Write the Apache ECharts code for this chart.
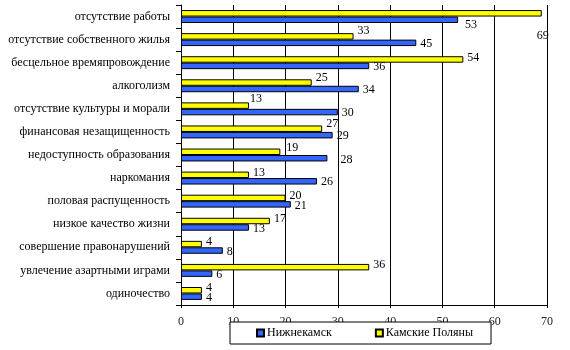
<!DOCTYPE html>
<html>
<head>
<meta charset="utf-8">
<script src="https://cdn.jsdelivr.net/npm/echarts@6/dist/echarts.min.js"></script>
<style>
html,body{margin:0;padding:0;background:#fff;}
#chart{width:570px;height:350px;}
</style>
</head>
<body>
<div id="chart"></div>
<script>
// ---- data ----
var categories = [
  'отсутствие работы',
  'отсутствие собственного жилья',
  'бесцельное времяпровождение',
  'алкоголизм',
  'отсутствие культуры и морали',
  'финансовая незащищенность',
  'недоступность образования',
  'наркомания',
  'половая распущенность',
  'низкое качество жизни',
  'совершение правонарушений',
  'увлечение азартными играми',
  'одиночество'
];
var nizhnekamsk = [53, 45, 36, 34, 30, 29, 28, 26, 21, 13, 8, 6, 4];
var kamskiePolyany = [69, 33, 54, 25, 13, 27, 19, 13, 20, 17, 4, 36, 4];
var seriesNames = ['Нижнекамск', 'Камские Поляны'];
var xTicks = [0, 10, 20, 30, 40, 50, 60, 70];

// ---- label nudges (styling only) ----
var blueNudge = {0: [3, 5], 6: [9, 2]};
var yellowNudge = {0: [-9, 23], 1: [0, -6], 3: [0, -5], 4: [-3, -7], 5: [0, -5], 6: [2, -4]};

var FONT = '"Liberation Serif", "Times New Roman", serif';

function buildData(values, nudge, baseOffset) {
  return values.map(function (v, i) {
    var item = {value: v};
    var off = nudge[i] ? nudge[i] : baseOffset;
    item.label = {offset: off};
    return item;
  });
}

var chart = echarts.init(document.getElementById('chart'), null, {renderer: 'canvas'});
chart.setOption({
  backgroundColor: '#fff',
  animation: false,
  grid: {left: 181, right: 23, top: 5, bottom: 45, containLabel: false},
  legend: {
    data: seriesNames,
    left: 230,
    top: 322,
    orient: 'horizontal',
    backgroundColor: '#fff',
    borderColor: '#000',
    borderWidth: 1,
    borderRadius: 0,
    padding: [5, 18, 5, 26],
    itemGap: 43,
    itemWidth: 7,
    itemHeight: 7,
    icon: 'rect',
    z: 10,
    textStyle: {fontFamily: FONT, fontSize: 12, color: '#000', padding: [0, 0, 0, -2]}
  },
  xAxis: {
    type: 'value',
    min: xTicks[0],
    max: xTicks[xTicks.length - 1],
    interval: 10,
    axisLine: {show: true, lineStyle: {color: '#000', width: 1}},
    axisTick: {show: true, length: 3, lineStyle: {color: '#000'}},
    axisLabel: {fontFamily: FONT, fontSize: 12, color: '#222', margin: 11},
    splitLine: {show: true, lineStyle: {color: '#000', width: 1}}
  },
  yAxis: {
    type: 'category',
    inverse: true,
    data: categories,
    axisLine: {show: true, lineStyle: {color: '#000', width: 1}},
    axisTick: {show: true, length: 5, lineStyle: {color: '#000'}},
    axisLabel: {fontFamily: FONT, fontSize: 12, color: '#000', margin: 11},
    splitLine: {show: false}
  },
  series: [
    {
      name: seriesNames[1],
      type: 'bar',
      barGap: '0%',
      barCategoryGap: '44%',
      itemStyle: {color: '#FFFF00', borderColor: '#000', borderWidth: 1},
      label: {show: true, position: 'right', distance: 4, fontFamily: FONT, fontSize: 12, color: '#000'},
      data: buildData(kamskiePolyany, yellowNudge, [0, -2])
    },
    {
      name: seriesNames[0],
      type: 'bar',
      barGap: '0%',
      barCategoryGap: '44%',
      itemStyle: {color: '#3366FF', borderColor: '#000', borderWidth: 1},
      label: {show: true, position: 'right', distance: 4, fontFamily: FONT, fontSize: 12, color: '#000'},
      data: buildData(nizhnekamsk, blueNudge, [0, 1])
    }
  ]
});
</script>
</body>
</html>
